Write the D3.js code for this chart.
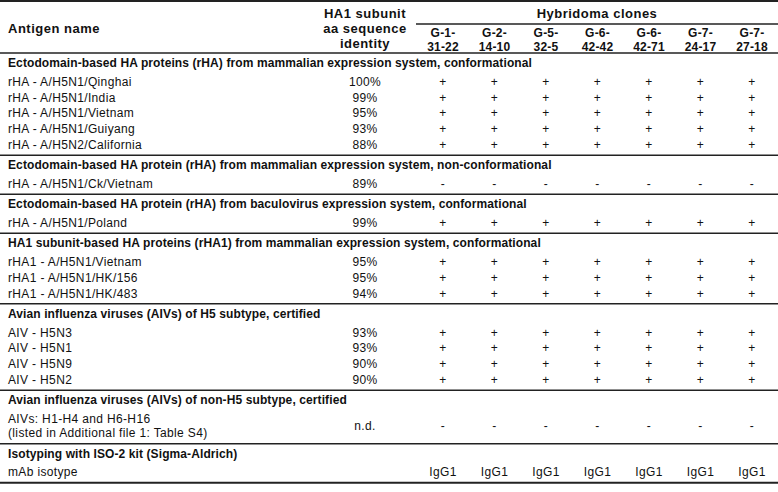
<!DOCTYPE html>
<html lang="en">
<head>
<meta charset="UTF-8">
<title>Hybridoma clone reactivity</title>
<script src="https://d3js.org/d3.v7.min.js"></script>
<style>
    html, body { margin: 0; padding: 0; background: #fff; }
    svg text {
        font-family: "Liberation Sans", Arial, Helvetica, sans-serif;
        font-size: 12px;
        fill: #111;
        letter-spacing: 0.35px;
    }
    svg text.bold { font-weight: bold; letter-spacing: 0.1px; }
    svg text.head { font-weight: bold; font-size: 13px; letter-spacing: 0.5px; }
    svg text.clone { font-weight: bold; font-size: 12px; letter-spacing: 0.2px; }
    .rule { stroke: #222; }
</style>
</head>
<body>
<svg id="tbl" width="778" height="492"></svg>
<script>
const clones = ["G-1-31-22", "G-2-14-10", "G-5-32-5", "G-6-42-42", "G-6-42-71", "G-7-24-17", "G-7-27-18"];

const sectionTitles = [
    "Ectodomain-based HA proteins (rHA) from mammalian expression system, conformational",
    "Ectodomain-based HA protein (rHA) from mammalian expression system, non-conformational",
    "Ectodomain-based HA protein (rHA) from baculovirus expression system, conformational",
    "HA1 subunit-based HA proteins (rHA1) from mammalian expression system, conformational",
    "Avian influenza viruses (AIVs) of H5 subtype, certified",
    "Avian influenza viruses (AIVs) of non-H5 subtype, certified",
    "Isotyping with ISO-2 kit (Sigma-Aldrich)"
];

const antigenNames = [
    "rHA - A/H5N1/Qinghai", "rHA - A/H5N1/India", "rHA - A/H5N1/Vietnam", "rHA - A/H5N1/Guiyang", "rHA - A/H5N2/California",
    "rHA - A/H5N1/Ck/Vietnam",
    "rHA - A/H5N1/Poland",
    "rHA1 - A/H5N1/Vietnam", "rHA1 - A/H5N1/HK/156", "rHA1 - A/H5N1/HK/483",
    "AIV - H5N3", "AIV - H5N1", "AIV - H5N9", "AIV - H5N2",
    "AIVs: H1-H4 and H6-H16|(listed in Additional file 1: Table S4)",
    "mAb isotype"
];
const antigenSection = [0, 0, 0, 0, 0, 1, 2, 3, 3, 3, 4, 4, 4, 4, 5, 6];
const identities = ["100%", "99%", "95%", "93%", "88%", "89%", "99%", "95%", "95%", "94%", "93%", "93%", "90%", "90%", "n.d.", ""];

// one symbol per clone, in clone order
const reactivity = [
    "+++++++", "+++++++", "+++++++", "+++++++", "+++++++",
    "-------",
    "+++++++",
    "+++++++", "+++++++", "+++++++",
    "+++++++", "+++++++", "+++++++", "+++++++",
    "-------"
];
const isotypes = ["IgG1", "IgG1", "IgG1", "IgG1", "IgG1", "IgG1", "IgG1"];

// ---- layout ----
const svg = d3.select("#tbl");
const W = +svg.attr("width");

const nameX = 8;
const identX = 365;
const x = d3.scalePoint().domain(clones).range([443, 752]);

const headerBottom = 53;
const gapLineTitle = 10, gapTitleRow = 18.5, rowH = 15.8, gapRowLine = 10.5, lineH = 14.5;

// walk the sections to place titles, rows and rules
let cur = headerBottom;
const titles = [], rows = [], rules = [headerBottom];
sectionTitles.forEach((t, s) => {
    cur += gapLineTitle;
    titles.push({ text: t, y: cur });
    cur += gapTitleRow;
    const idx = antigenSection.map((v, i) => v === s ? i : -1).filter(i => i >= 0);
    idx.forEach((i, k) => {
        const lines = antigenNames[i].split("|");
        const extra = (lines.length - 1) * lineH;
        rows.push({ i, lines, y: cur + extra / 2, top: cur });
        if (k < idx.length - 1) cur += rowH + extra;
        else cur += extra;
    });
    cur += gapRowLine;
    rules.push(cur);
});

const put = (sel, cls) => sel.append("text").attr("class", cls || null).attr("dy", "0.35em");

// header
put(svg, "head").attr("x", nameX).attr("y", 28).text("Antigen name");
["HA1 subunit", "aa sequence", "identity"].forEach((t, k) =>
    put(svg, "head").attr("x", identX).attr("y", 13 + k * 15).attr("text-anchor", "middle").text(t));
put(svg, "head").attr("x", (416 + W) / 2).attr("y", 13)
    .attr("text-anchor", "middle").text("Hybridoma clones");

const cloneLabel = svg.append("g").selectAll("g").data(clones).join("g")
    .attr("transform", d => `translate(${x(d)},0)`);
cloneLabel.each(function (d) {
    const m = d.match(/^(G-\d-)(.*)$/);
    [m[1], m[2]].forEach((t, k) =>
        put(d3.select(this), "clone").attr("x", 0).attr("y", 33 + k * 14).attr("text-anchor", "middle").text(t));
});

// rules
svg.append("line").attr("class", "rule").attr("x1", 0).attr("x2", W).attr("y1", 1).attr("y2", 1).attr("stroke-width", 2);
svg.append("line").attr("class", "rule").attr("x1", 416).attr("x2", W).attr("y1", 24).attr("y2", 24).attr("stroke-width", 1.5);
svg.append("g").selectAll("line").data(rules).join("line")
    .attr("class", "rule")
    .attr("x1", 0).attr("x2", W)
    .attr("y1", d => d).attr("y2", d => d)
    .attr("stroke-width", (d, i) => i === rules.length - 1 ? 2 : 1.5);

// section titles
svg.append("g").selectAll("text").data(titles).join("text")
    .attr("class", "bold").attr("dy", "0.35em")
    .attr("x", nameX).attr("y", d => d.y).text(d => d.text);

// rows
const row = svg.append("g").selectAll("g").data(rows).join("g");
row.each(function (r) {
    const g = d3.select(this);
    r.lines.forEach((t, k) => put(g).attr("x", nameX).attr("y", r.top + k * lineH).text(t));
    put(g).attr("x", identX).attr("y", r.y).attr("text-anchor", "middle").text(identities[r.i]);
    const vals = r.i < reactivity.length ? reactivity[r.i].split("") : isotypes;
    vals.forEach((v, c) =>
        put(g).attr("x", x(clones[c])).attr("y", r.y).attr("text-anchor", "middle").text(v));
});
</script>
</body>
</html>
